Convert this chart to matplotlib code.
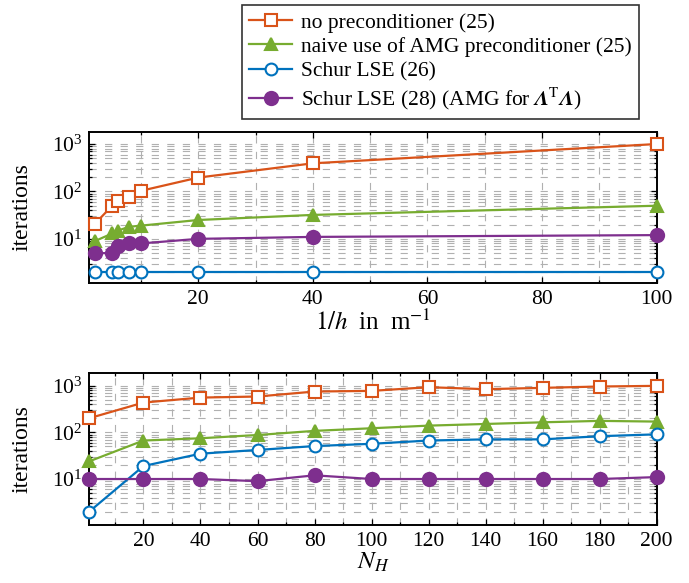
import matplotlib.pyplot as plt
import matplotlib.ticker as mticker
import numpy as np

# fonts: Times-like text and math
plt.rcParams['font.family'] = ['Liberation Serif', 'DejaVu Serif']
plt.rcParams['mathtext.fontset'] = 'stix'
plt.rcParams['font.size'] = 15.5

# data, top panel (x = 1/h)
inv_h = [2, 5, 6, 8, 10, 20, 40, 100]
top_none = [21, 50, 64, 75, 103, 196, 392, 1000]
top_naive = [9, 13, 15, 18, 19, 25, 32, 50]
top_schur26 = [2, 2, 2, 2, 2, 2, 2, 2]
top_schur28 = [5, 5, 7, 8, 8, 10, 11, 12]

# data, bottom panel (x = N_H)
n_h = [1, 20, 40, 60, 80, 100, 120, 140, 160, 180, 200]
bot_none = [202, 438, 560, 590, 755, 780, 936, 848, 906, 968, 1000]
bot_naive = [24, 67, 75, 88, 108, 123, 140, 152, 165, 177, 171]
bot_schur26 = [2, 19, 35, 42, 51, 57, 67, 71, 71, 83, 91]
bot_schur28 = [10, 10, 10, 9, 12, 10, 10, 10, 10, 10, 11]

labels = ['no preconditioner (25)',
          'naive use of AMG preconditioner (25)',
          'Schur LSE (26)',
          r'Schur LSE (28) (AMG for $\mathbfit{\Lambda}^{\mathrm{T}}\mathbfit{\Lambda}$)']
colors = ['#D95319', '#77AC30', '#0072BD', '#7E2F8E']
markers = ['s', '^', 'o', 'o']
msizes = [8.5, 8.5, 8.5, 9.5]
hollow = [True, False, True, False]

fig = plt.figure(figsize=(6.89, 5.83), dpi=100)
axTop = fig.add_axes([89.3 / 689, 1 - 282.7 / 583, 567.4 / 689, 151 / 583])
axBot = fig.add_axes([89.3 / 689, 1 - 525 / 583, 567.4 / 689, 151.7 / 583])


def draw_panel(ax, x, series):
    handles = []
    for ys, c, m, ms, hol in zip(series, colors, markers, msizes, hollow):
        h, = ax.plot(x, ys, color=c, marker=m, lw=1.6, markersize=ms, mew=1.5,
                     markerfacecolor='white' if hol else c,
                     clip_on=False, zorder=3)
        handles.append(h)
    ax.set_yscale('log')
    ax.yaxis.set_major_locator(mticker.LogLocator(base=10))
    ax.yaxis.set_minor_locator(mticker.LogLocator(base=10, subs=np.arange(2, 10)))
    ax.yaxis.set_minor_formatter(mticker.NullFormatter())
    ax.grid(True, which='both', axis='both', color='#b0b0b0',
            linestyle=(0, (6.5, 7.5)), lw=0.8)
    ax.tick_params(which='both', direction='in', top=True, right=True,
                   labelsize=15.5, width=0.9)
    ax.tick_params(which='major', length=4, pad=5)
    ax.tick_params(which='minor', length=2)
    for sp in ax.spines.values():
        sp.set_linewidth(1.4)
    ax.set_ylabel('iterations', fontsize=17)
    ax.yaxis.set_label_coords(-0.1, 0.5)
    return handles


handles = draw_panel(axTop, inv_h, [top_none, top_naive, top_schur26, top_schur28])
axTop.set_xlim(1, 100)
axTop.set_ylim(1.19, 1820)
axTop.xaxis.set_major_locator(mticker.FixedLocator([20, 40, 60, 80, 100]))
axTop.xaxis.set_minor_locator(mticker.FixedLocator([10, 30, 50, 70, 90]))
axTop.set_xlabel(r'$1/h\;$ in  m$^{-1}$', fontsize=18, labelpad=1)

draw_panel(axBot, n_h, [bot_none, bot_naive, bot_schur26, bot_schur28])
axBot.set_xlim(1, 200)
axBot.set_ylim(1.03, 1860)
axBot.xaxis.set_major_locator(mticker.FixedLocator(list(range(20, 201, 20))))
axBot.xaxis.set_minor_locator(mticker.FixedLocator(list(range(10, 200, 20))))
axBot.set_xlabel(r'$N_H$', fontsize=18, labelpad=0)

leg = fig.legend(handles, labels, loc='upper left',
                 bbox_to_anchor=(241.7 / 689, 1 - 5 / 583), fontsize=15.5,
                 frameon=True, fancybox=False, edgecolor='black',
                 handlelength=2.0, handletextpad=0.4, labelspacing=0.2,
                 borderpad=0.35, borderaxespad=0)
leg.get_frame().set_linewidth(1.2)

fig.savefig('out.png', dpi=100)
